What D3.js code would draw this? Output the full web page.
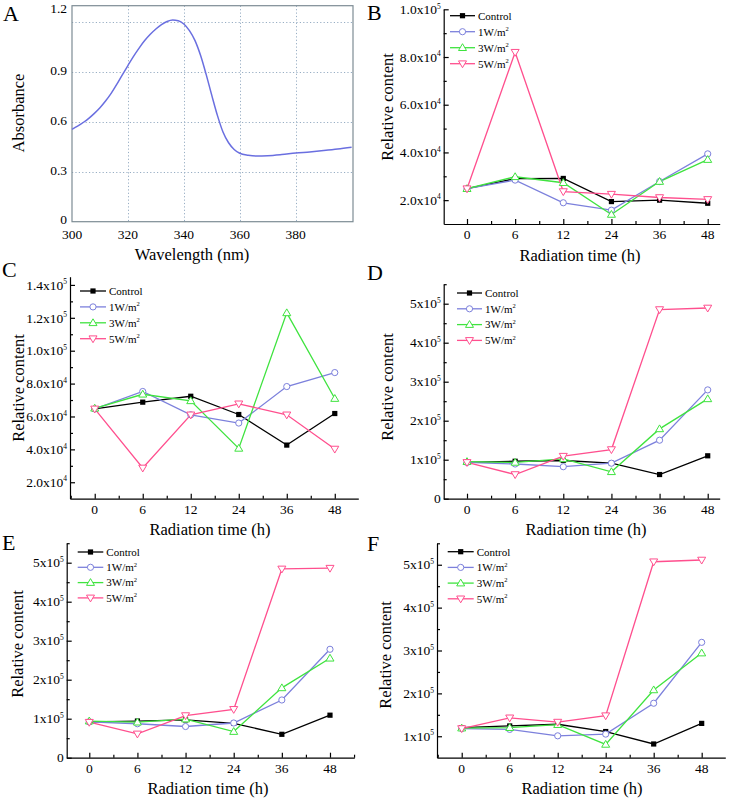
<!DOCTYPE html>
<html><head><meta charset="utf-8">
<script src="https://cdn.jsdelivr.net/npm/d3@7"></script>
<style>
body{margin:0;background:#fff}
svg{display:block}
text{font-family:"Liberation Serif","Times New Roman",serif;fill:#000}
</style>
</head><body>
<svg id="c" width="734" height="799"></svg>
<script>
// ---------- DATA ----------
// Panel A: absorption spectrum
const wavelength = [300,302,304,306,308,310,312,314,316,318,320,322,324,326,328,330,332,334,336,338,340,342,344,346,348,350,352,354,356,358,360,363,366,370,375,380,385,390,395,400];
const absorbance = [0.556,0.575,0.597,0.622,0.652,0.686,0.726,0.772,0.826,0.884,0.940,0.995,1.045,1.09,1.128,1.16,1.186,1.205,1.214,1.21,1.19,1.15,1.09,1.00,0.885,0.76,0.64,0.54,0.475,0.435,0.412,0.400,0.395,0.397,0.404,0.413,0.42,0.428,0.437,0.448];
const aXTicks = [300,320,340,360,380];
const aYTicks = [0,0.3,0.6,0.9,1.2];

// Panels B-F
const times = [0,6,12,24,36,48];
const seriesLabels = ["Control","1W/m","3W/m","5W/m"];
const seriesSup = ["","2","2","2"];

const B_control = [24800,29000,29100,19400,20000,18700];
const B_1W      = [24800,28400,18900,15800,27800,39400];
const B_3W      = [24800,29800,27300,14000,27800,37000];
const B_5W      = [24800,82000,23600,22500,21100,20300];

const C_control = [64600,68700,72300,61200,42600,61800];
const C_1W      = [64600,75200,61000,56000,78200,86700];
const C_3W      = [65000,73500,69500,40600,123000,70900];
const C_5W      = [64600,28700,61000,67700,61000,40200];

const D_control = [93000,96000,98000,91000,62000,110000];
const D_1W      = [93000,89000,82000,91000,150000,279000];
const D_3W      = [95000,93000,102000,69000,179000,256000];
const D_5W      = [93000,62000,109000,126000,485000,489000];

const E_control = [92000,94000,97000,88000,60000,109000];
const E_1W      = [92000,87000,80000,89000,148000,278000];
const E_3W      = [94000,91000,99000,67000,179000,255000];
const E_5W      = [91000,61000,108000,124000,484000,486000];

const F_control = [120000,124000,128000,111000,82000,130000];
const F_1W      = [118000,116000,101000,105000,177000,319000];
const F_3W      = [119000,120000,127000,81000,208000,294000];
const F_5W      = [118000,143000,133000,148000,507000,511000];

const B_yTicks = [20000,40000,60000,80000,100000];
const C_yTicks = [20000,40000,60000,80000,100000,120000,140000];
const D_yTicks = [0,100000,200000,300000,400000,500000];
const E_yTicks = [0,100000,200000,300000,400000,500000];
const F_yTicks = [100000,200000,300000,400000,500000];

// ---------- STYLE / LAYOUT ----------
const colors = ["#000000","#7c80dc","#3fe33f","#ff4f8e"];
const markerTypes = ["square","circle","up","down"];
const FONT_TICK = 13.5, FONT_TITLE = 16.5, FONT_LETTER = 22, FONT_LEG = 11;

const svg = d3.select("#c");

// ---------- PANEL A ----------
(function(){
  const x = d3.scaleLinear().domain([300,400.5]).range([72,353]);
  const y = d3.scaleLinear().domain([0,1.3]).range([221.7,5.7]);
  const g = svg.append("g");
  const grid = "#98aec4";
  g.selectAll(".vg").data(aXTicks.slice(1)).join("line")
    .attr("x1",d=>Math.round(x(d))+0.5).attr("x2",d=>Math.round(x(d))+0.5).attr("y1",y.range()[1]).attr("y2",y.range()[0])
    .attr("stroke",grid).attr("stroke-width",1).attr("stroke-dasharray","1.2,2.2");
  g.selectAll(".hg").data(aYTicks.slice(1)).join("line")
    .attr("x1",x.range()[0]).attr("x2",x.range()[1]).attr("y1",d=>Math.round(y(d))+0.5).attr("y2",d=>Math.round(y(d))+0.5)
    .attr("stroke",grid).attr("stroke-width",1).attr("stroke-dasharray","1.2,2.2");
  g.append("rect").attr("x",x.range()[0]).attr("y",y.range()[1])
    .attr("width",x.range()[1]-x.range()[0]).attr("height",y.range()[0]-y.range()[1])
    .attr("fill","none").attr("stroke","#7d8c94").attr("stroke-width",1.2);
  const line = d3.line().x((d,i)=>x(wavelength[i])).y(d=>y(d)).curve(d3.curveMonotoneX);
  g.append("path").attr("d",line(absorbance)).attr("fill","none")
    .attr("stroke","#6a6fe0").attr("stroke-width",1.5);
  g.selectAll(".xl").data(aXTicks).join("text")
    .attr("x",d=>x(d)).attr("y",239).attr("text-anchor","middle")
    .attr("font-size",FONT_TICK).text(d=>d);
  g.selectAll(".yl").data(aYTicks).join("text")
    .attr("x",67).attr("y",d=> d===1.2 ? 8 : y(d)-2).attr("dy","0.35em").attr("text-anchor","end")
    .attr("font-size",FONT_TICK).text(d=>d===0?"0":d.toFixed(1));
  g.append("text").attr("x",192).attr("y",254).attr("dy","0.35em").attr("text-anchor","middle")
    .attr("font-size",FONT_TITLE).text("Wavelength (nm)");
  g.append("text").attr("transform","translate(18,113) rotate(-90)").attr("dy","0.35em")
    .attr("text-anchor","middle").attr("font-size",FONT_TITLE).text("Absorbance");
  g.append("text").attr("x",3).attr("y",21).attr("font-size",FONT_LETTER).text("A");
})();

// ---------- PANELS B-F ----------
function drawMarker(g, type, cx, cy, color){
  if(type==="square"){
    g.append("rect").attr("x",cx-2.6).attr("y",cy-2.6).attr("width",5.2).attr("height",5.2).attr("fill",color);
  } else if(type==="circle"){
    g.append("circle").attr("cx",cx).attr("cy",cy).attr("r",3.1).attr("fill","#fff").attr("stroke",color).attr("stroke-width",1);
  } else if(type==="up"){
    g.append("path").attr("d",`M${cx},${cy-4}L${cx+4},${cy+2.8}L${cx-4},${cy+2.8}Z`).attr("fill","#fff").attr("stroke",color).attr("stroke-width",1);
  } else {
    g.append("path").attr("d",`M${cx},${cy+4}L${cx+4},${cy-2.8}L${cx-4},${cy-2.8}Z`).attr("fill","#fff").attr("stroke",color).attr("stroke-width",1);
  }
}

function fmtTick(sel, v, dec){
  if(v===0){ sel.text("0"); return; }
  const e = Math.floor(Math.log10(v)+1e-9);
  const m = v/Math.pow(10,e);
  sel.append("tspan").text(m.toFixed(dec)+"x10");
  sel.append("tspan").attr("font-size",7.5).attr("dy",-5.5).text(e);
}

function panel(cfg){
  const g = svg.append("g");
  const x = d3.scaleLinear().domain(cfg.xDomain).range([cfg.left,cfg.right]);
  const y = d3.scaleLinear().domain(cfg.yDomain).range([cfg.bottom,cfg.top]);
  const xMinor = d3.range(-0.5,6,1).filter(v=>v>=cfg.xDomain[0]&&v<=cfg.xDomain[1]);
  g.append("g").attr("transform",`translate(0,${cfg.bottom})`)
    .call(d3.axisBottom(x).tickValues(d3.range(6)).tickSizeInner(-5).tickSizeOuter(0).tickFormat(""))
    .call(s=>{s.select(".domain").attr("stroke-width",1.2);s.selectAll(".tick line").attr("stroke-width",1.2);});
  g.append("g").attr("transform",`translate(0,${cfg.bottom})`)
    .call(d3.axisBottom(x).tickValues(xMinor).tickSizeInner(-3).tickSizeOuter(0).tickFormat(""))
    .call(s=>{s.select(".domain").remove();s.selectAll(".tick line").attr("stroke-width",1.2);});
  const step = cfg.yTicks[1]-cfg.yTicks[0];
  const yMinor = d3.range(cfg.yTicks[0]-step/2, cfg.yDomain[1]+1, step).filter(v=>v>cfg.yDomain[0]&&v<=cfg.yDomain[1]+1);
  g.append("g").attr("transform",`translate(${cfg.left},0)`)
    .call(d3.axisLeft(y).tickValues(cfg.yTicks).tickSizeInner(-5).tickSizeOuter(0).tickFormat(""))
    .call(s=>{s.select(".domain").attr("stroke-width",1.2);s.selectAll(".tick line").attr("stroke-width",1.2);});
  g.append("g").attr("transform",`translate(${cfg.left},0)`)
    .call(d3.axisLeft(y).tickValues(yMinor).tickSizeInner(-3).tickSizeOuter(0).tickFormat(""))
    .call(s=>{s.select(".domain").remove();s.selectAll(".tick line").attr("stroke-width",1.2);});
  g.selectAll(".xl").data(times).join("text")
    .attr("x",(d,i)=>x(i)).attr("y",cfg.bottom+15).attr("text-anchor","middle")
    .attr("font-size",FONT_TICK).text(d=>d);
  cfg.yTicks.forEach(v=>{
    const t = g.append("text").attr("x",cfg.left-3).attr("y",y(v)).attr("dy","0.35em")
      .attr("text-anchor","end").attr("font-size",FONT_TICK);
    fmtTick(t, v, cfg.dec);
  });
  const line = d3.line().x((d,i)=>x(i)).y(d=>y(d));
  cfg.series.forEach((s,k)=>{
    g.append("path").attr("d",line(s)).attr("fill","none").attr("stroke",colors[k]).attr("stroke-width",1.3);
  });
  cfg.series.forEach((s,k)=>{
    s.forEach((v,i)=>drawMarker(g,markerTypes[k],x(i),y(v),colors[k]));
  });
  seriesLabels.forEach((lab,k)=>{
    const ly = cfg.leg.y + k*cfg.leg.step;
    g.append("line").attr("x1",cfg.leg.x0).attr("x2",cfg.leg.x1).attr("y1",ly).attr("y2",ly)
      .attr("stroke",colors[k]).attr("stroke-width",1.3);
    drawMarker(g,markerTypes[k],(cfg.leg.x0+cfg.leg.x1)/2,ly,colors[k]);
    const t = g.append("text").attr("x",cfg.leg.x1+3).attr("y",ly).attr("dy","0.35em").attr("font-size",FONT_LEG);
    t.append("tspan").text(lab);
    if(seriesSup[k]) t.append("tspan").attr("font-size",6.5).attr("dy",-4.5).text(seriesSup[k]);
  });
  g.append("text").attr("x",cfg.xt[0]).attr("y",cfg.xt[1]).attr("dy","0.35em").attr("text-anchor","middle")
    .attr("font-size",FONT_TITLE).text("Radiation time (h)");
  g.append("text").attr("transform",`translate(${cfg.yt[0]},${cfg.yt[1]}) rotate(-90)`).attr("dy","0.35em")
    .attr("text-anchor","middle").attr("font-size",FONT_TITLE).text("Relative content");
  g.append("text").attr("x",cfg.letter[0]).attr("y",cfg.letter[1]).attr("font-size",FONT_LETTER).text(cfg.name);
}

panel({name:"B", left:443.7, right:719.7, top:9.3, bottom:224, xDomain:[-0.484,5.249], yDomain:[10000,100000],
  yTicks:B_yTicks, dec:1, series:[B_control,B_1W,B_3W,B_5W],
  leg:{x0:450,x1:475,y:15.7,step:16}, xt:[580,255], yt:[387,107], letter:[367,20]});
panel({name:"C", left:70, right:358.3, top:276.7, bottom:498.7, xDomain:[-0.515,5.49], yDomain:[10000,145000],
  yTicks:C_yTicks, dec:1, series:[C_control,C_1W,C_3W,C_5W],
  leg:{x0:80,x1:106,y:291,step:15.9}, xt:[210,529], yt:[18,388], letter:[2,277]});
panel({name:"D", left:443.7, right:719.7, top:284.2, bottom:498.7, xDomain:[-0.484,5.249], yDomain:[0,550000],
  yTicks:D_yTicks, dec:0, series:[D_control,D_1W,D_3W,D_5W],
  leg:{x0:457,x1:482,y:293,step:15.8}, xt:[586,529], yt:[387,387], letter:[367,280]});
panel({name:"E", left:66.7, right:354.3, top:543.2, bottom:757.7, xDomain:[-0.469,5.505], yDomain:[0,550000],
  yTicks:E_yTicks, dec:0, series:[E_control,E_1W,E_3W,E_5W],
  leg:{x0:77.7,x1:103.3,y:552,step:15.3}, xt:[208,788], yt:[17,644], letter:[2,550]});
panel({name:"F", left:437, right:725.3, top:543.3, bottom:757.7, xDomain:[-0.515,5.492], yDomain:[50000,550000],
  yTicks:F_yTicks, dec:0, series:[F_control,F_1W,F_3W,F_5W],
  leg:{x0:447.7,x1:473.7,y:551.7,step:15.7}, xt:[582,788], yt:[385,655], letter:[367,551]});
</script>
</body></html>
